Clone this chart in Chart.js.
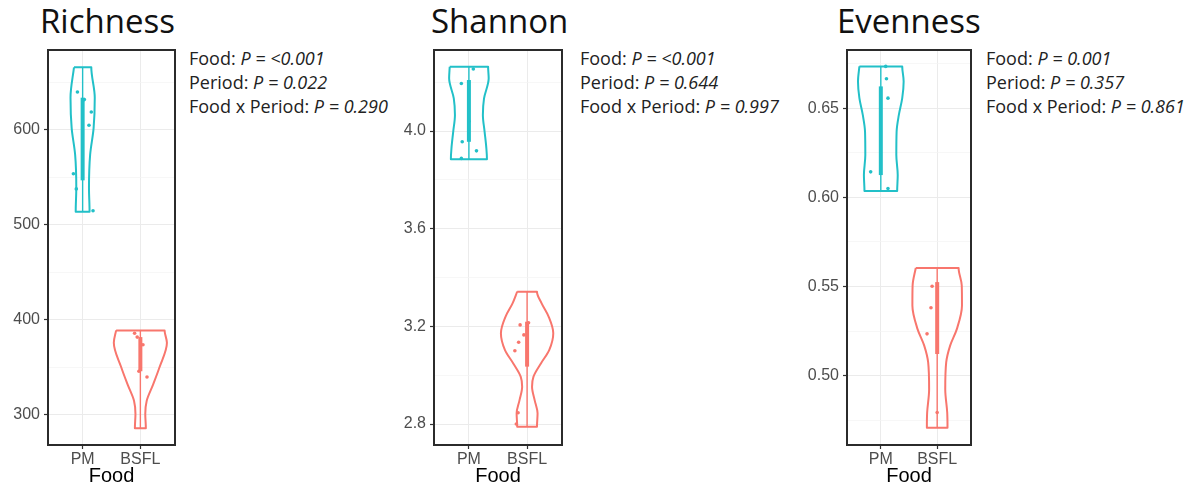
<!DOCTYPE html>
<html>
<head>
<meta charset="utf-8">
<script src="https://cdn.jsdelivr.net/npm/chart.js@4"></script>
<style>
  body { margin: 0; background: #fff; }
  #wrap { position: relative; width: 1196px; height: 485px; overflow: hidden; }
  .panel-title { position: absolute; top: 4px; font-family: "Open Sans", sans-serif; font-size: 33px; line-height: 33px; color: #111; white-space: nowrap; }
  .stats { position: absolute; top: 46px; font-family: "Open Sans", sans-serif; font-size: 18px; line-height: 24px; color: #222; white-space: nowrap; }
  canvas { position: absolute; top: 0; }
</style>
</head>
<body>
<div id="wrap"></div>
<script>
var foods = ['PM', 'BSFL'];
var effects = ['Food', 'Period', 'Food x Period'];
var foodColors = ['#22C0C8', '#F8766D'];

// Richness
var richnessTicks = [300, 400, 500, 600];
var richnessLevelsPM = [666, 634, 602, 574, 539, 514];
var richnessWidthPM = [0.15, 0.21, 0.19, 0.13, 0.11, 0.12];
var richnessLevelsBSFL = [389, 376, 350, 332, 315, 301, 286];
var richnessWidthBSFL = [0.42, 0.46, 0.33, 0.22, 0.11, 0.085, 0.095];
var richnessBoxPM = [514, 547, 634, 666];      // min, q1, q3, max
var richnessBoxBSFL = [286, 346, 382, 389];
var richnessPointsPM = [640, 632, 619, 605, 554, 538, 515];
var richnessJitterPM = [-0.09, 0.03, 0.15, 0.11, -0.16, -0.11, 0.18];
var richnessPointsBSFL = [386, 382, 374, 346, 340];
var richnessJitterBSFL = [-0.1, -0.055, 0.045, -0.025, 0.115];
var richnessP = ['<0.001', '0.022', '0.290'];

// Shannon
var shannonTicks = [2.8, 3.2, 3.6, 4.0];
var shannonLevelsPM = [4.263, 4.216, 4.134, 4.066, 3.997, 3.929, 3.885];
var shannonWidthPM = [0.33, 0.34, 0.26, 0.24, 0.27, 0.30, 0.31];
var shannonLevelsBSFL = [3.342, 3.294, 3.240, 3.172, 3.103, 3.049, 2.994, 2.953, 2.898, 2.844, 2.789];
var shannonWidthBSFL = [0.17, 0.25, 0.37, 0.45, 0.38, 0.24, 0.11, 0.085, 0.13, 0.18, 0.17];
var shannonBoxPM = [3.885, 3.956, 4.209, 4.263];
var shannonBoxBSFL = [2.789, 3.035, 3.219, 3.342];
var shannonPointsPM = [4.254, 4.195, 4.04, 3.956, 3.919, 3.888];
var shannonJitterPM = [0.076, -0.13, 0, -0.115, 0.13, -0.13];
var shannonPointsBSFL = [3.215, 3.206, 3.165, 3.135, 3.100, 2.846, 2.80];
var shannonJitterBSFL = [0.025, -0.12, -0.055, -0.145, -0.21, -0.155, -0.185];
var shannonP = ['<0.001', '0.644', '0.997'];

// Evenness
var evennessTicks = [0.50, 0.55, 0.60, 0.65];
var evennessLevelsPM = [0.6734, 0.6650, 0.6556, 0.6462, 0.6368, 0.6237, 0.6125, 0.6035];
var evennessWidthPM = [0.38, 0.405, 0.38, 0.32, 0.28, 0.275, 0.30, 0.29];
var evennessLevelsBSFL = [0.5604, 0.5506, 0.5394, 0.5263, 0.5169, 0.5075, 0.4925, 0.4794, 0.4709];
var evennessWidthBSFL = [0.38, 0.436, 0.44, 0.35, 0.23, 0.16, 0.143, 0.178, 0.183];
var evennessBoxPM = [0.6035, 0.6125, 0.6622, 0.6734];
var evennessBoxBSFL = [0.4709, 0.5122, 0.5525, 0.5604];
var evennessPointsPM = [0.6734, 0.6665, 0.6556, 0.6143, 0.6050];
var evennessJitterPM = [0.087, 0.1, 0.127, -0.18, 0.127];
var evennessPointsBSFL = [0.5502, 0.5381, 0.5235, 0.4794];
var evennessJitterBSFL = [-0.09, -0.11, -0.18, 0];
var evennessP = ['0.001', '0.357', '0.861'];

var panels = [
    {
        title: 'Richness', pValues: richnessP, ticks: richnessTicks, decimals: 0,
        yMin: 268.4, yMax: 684.2,
        levels: [richnessLevelsPM, richnessLevelsBSFL], widths: [richnessWidthPM, richnessWidthBSFL],
        boxes: [richnessBoxPM, richnessBoxBSFL],
        points: [richnessPointsPM, richnessPointsBSFL], jitter: [richnessJitterPM, richnessJitterBSFL],
        left: 0, boxLeft: 48, boxRight: 177, titleLeft: 40, statsLeft: 189
    },
    {
        title: 'Shannon', pValues: shannonP, ticks: shannonTicks, decimals: 1,
        yMin: 2.714, yMax: 4.332,
        levels: [shannonLevelsPM, shannonLevelsBSFL], widths: [shannonWidthPM, shannonWidthBSFL],
        boxes: [shannonBoxPM, shannonBoxBSFL],
        points: [shannonPointsPM, shannonPointsBSFL], jitter: [shannonJitterPM, shannonJitterBSFL],
        left: 390, boxLeft: 434, boxRight: 564, titleLeft: 431, statsLeft: 580
    },
    {
        title: 'Evenness', pValues: evennessP, ticks: evennessTicks, decimals: 2,
        yMin: 0.4612, yMax: 0.6826,
        levels: [evennessLevelsPM, evennessLevelsBSFL], widths: [evennessWidthPM, evennessWidthBSFL],
        boxes: [evennessBoxPM, evennessBoxBSFL],
        points: [evennessPointsPM, evennessPointsBSFL], jitter: [evennessJitterPM, evennessJitterBSFL],
        left: 795, boxLeft: 847, boxRight: 973, titleLeft: 837, statsLeft: 986
    }
];

Chart.defaults.font.family = '"Liberation Sans", Arial, sans-serif';

// outline of a violin: down the left side, back up the right side
var violinOutline = function(center, levels, widths) {
    var pts = [];
    for (var i = 0; i < levels.length; i++) {
        pts.push({ x: center - widths[i], y: levels[i] });
    }
    for (var j = levels.length - 1; j >= 0; j--) {
        pts.push({ x: center + widths[j], y: levels[j] });
    }
    pts.push({ x: pts[0].x, y: pts[0].y });
    return pts;
};

// major ticks plus the minor lines half way between them
var gridTicks = function(major, min, max) {
    var half = (major[1] - major[0]) / 2;
    var out = [];
    for (var k = 0; k < 40; k++) {
        var v = Math.round((major[0] - half + k * half) * 1e6) / 1e6;
        if (v > max) break;
        if (v >= min) out.push({ value: v, isMajor: k % 2 === 1 });
    }
    return out;
};

var panelBorder = {
    id: 'panelBorder',
    afterDatasetsDraw: function(chart) {
        var a = chart.chartArea;
        var ctx = chart.ctx;
        ctx.save();
        ctx.strokeStyle = '#2b2b2b';
        ctx.lineWidth = 2;
        ctx.strokeRect(a.left, a.top, a.right - a.left, a.bottom - a.top);
        ctx.restore();
    }
};

var buildPanel = function(p) {
    var wrap = document.getElementById('wrap');

    var title = document.createElement('div');
    title.className = 'panel-title';
    title.style.left = p.titleLeft + 'px';
    title.textContent = p.title;
    wrap.appendChild(title);

    var stats = document.createElement('div');
    stats.className = 'stats';
    stats.style.left = p.statsLeft + 'px';
    for (var i = 0; i < effects.length; i++) {
        var line = document.createElement('div');
        line.appendChild(document.createTextNode(effects[i] + ': '));
        var it = document.createElement('i');
        it.textContent = 'P = ' + p.pValues[i];
        line.appendChild(it);
        stats.appendChild(line);
    }
    wrap.appendChild(stats);

    var width = p.boxRight - p.left + 2;
    var canvas = document.createElement('canvas');
    canvas.width = width;
    canvas.height = 485;
    canvas.style.left = p.left + 'px';
    canvas.style.width = width + 'px';
    canvas.style.height = '485px';
    wrap.appendChild(canvas);

    var datasets = [];
    for (var g = 0; g < foods.length; g++) {
        var c = g + 1;
        var col = foodColors[g];
        var box = p.boxes[g];
        var pts = p.points[g].map(function(v, k) {
            return { x: c + p.jitter[g][k], y: v };
        });

        datasets.push({
            label: foods[g] + ' samples', data: pts, showLine: false,
            pointRadius: 1.8, pointBorderWidth: 0, pointBackgroundColor: col, order: 0
        });
        datasets.push({
            label: foods[g] + ' box', data: [{ x: c, y: box[1] }, { x: c, y: box[2] }],
            borderColor: col, borderWidth: 4, pointRadius: 0, order: 1
        });
        datasets.push({
            label: foods[g] + ' range', data: [{ x: c, y: box[0] }, { x: c, y: box[3] }],
            borderColor: col, borderWidth: 1.4, pointRadius: 0, order: 2
        });
        datasets.push({
            label: foods[g] + ' violin', data: violinOutline(c, p.levels[g], p.widths[g]),
            indexAxis: 'y', cubicInterpolationMode: 'monotone',
            borderColor: col, borderWidth: 2, borderJoinStyle: 'round',
            pointRadius: 0, fill: false, order: 3
        });
    }

    var isMajor = function(ctx) {
        return ctx.tick && ctx.tick.isMajor;
    };

    var config = {
        type: 'line',
        data: { datasets: datasets },
        plugins: [panelBorder],
        options: {
            responsive: false,
            animation: false,
            layout: { padding: { top: 50, right: 2, bottom: 0, left: 0 } },
            plugins: { legend: { display: false }, tooltip: { enabled: false } },
            scales: {
                x: {
                    type: 'linear', min: 0.4, max: 2.6,
                    afterBuildTicks: function(scale) {
                        scale.ticks = foods.map(function(f, k) { return { value: k + 1 }; });
                    },
                    afterFit: function(scale) { scale.height = 40; },
                    border: { display: false },
                    grid: { color: '#ebebeb', lineWidth: 1, tickColor: '#333', tickLength: 4, tickWidth: 1.2 },
                    ticks: {
                        autoSkip: false, maxRotation: 0, padding: 1, color: '#4d4d4d',
                        font: { size: 16 },
                        callback: function(value) { return foods[Math.round(value) - 1]; }
                    },
                    title: {
                        display: true, text: 'Food', color: '#000',
                        font: { size: 20, lineHeight: 0.85 }, padding: { top: 0, bottom: 0 }
                    }
                },
                y: {
                    type: 'linear', min: p.yMin, max: p.yMax,
                    afterBuildTicks: function(scale) {
                        scale.ticks = gridTicks(p.ticks, p.yMin, p.yMax);
                    },
                    afterFit: function(scale) { scale.width = p.boxLeft - p.left; },
                    border: { display: false },
                    grid: {
                        color: function(ctx) { return isMajor(ctx) ? '#ebebeb' : '#f3f3f3'; },
                        lineWidth: function(ctx) { return isMajor(ctx) ? 1 : 0.7; },
                        tickColor: function(ctx) { return isMajor(ctx) ? '#333' : 'rgba(0,0,0,0)'; },
                        tickLength: 4, tickWidth: 1.2
                    },
                    ticks: {
                        autoSkip: false, padding: 4, color: '#4d4d4d',
                        font: { size: 16 },
                        callback: function(value, index, ticks) {
                            return ticks[index].isMajor ? Number(value).toFixed(p.decimals) : '';
                        }
                    }
                }
            }
        }
    };

    return new Chart(canvas.getContext('2d'), config);
};

panels.forEach(buildPanel);
</script>
</body>
</html>
